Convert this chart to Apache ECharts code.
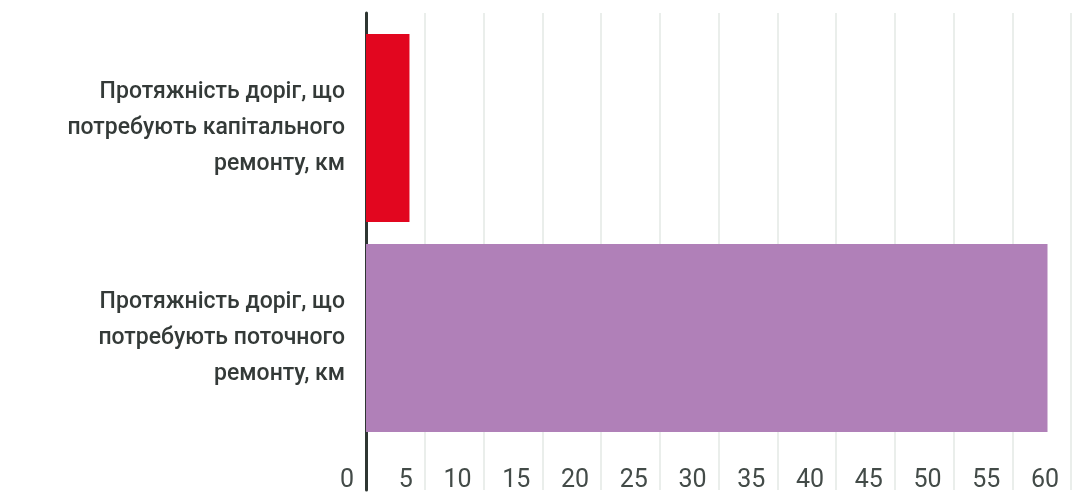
<!DOCTYPE html>
<html>
<head>
<meta charset="utf-8">
<script src="https://cdn.jsdelivr.net/npm/echarts@6/dist/echarts.min.js"></script>
<style>
html,body{margin:0;padding:0;background:#fff;}
#chart{width:1087px;height:493px;}
</style>
</head>
<body>
<div id="chart"></div>
<script>
const categories = [
  "Протяжність доріг, що\nпотребують капітального\nремонту, км",
  "Протяжність доріг, що\nпотребують поточного\nремонту, км"
];
const values = [3.7, 58];
const barColors = ["#e2061f", "#b080b8"];
const xMin = 0, xMax = 60, xStep = 5;

const chart = echarts.init(document.getElementById('chart'), null, {renderer: 'canvas'});
const option = {
  backgroundColor: '#ffffff',
  animation: false,
  grid: [
    {left: 366, right: 16, top: 13, bottom: 0},
    {left: 366, right: 16, top: 23, bottom: 50}
  ],
  xAxis: [
    {
      gridIndex: 0, type: 'value', min: xMin, max: xMax, interval: xStep,
      axisLine: {show: false}, axisTick: {show: false},
      splitLine: {show: true, lineStyle: {color: '#e3e8e4', width: 1.5}},
      axisLabel: {
        inside: true, margin: -3, align: 'right', padding: [0, 12, 0, 0],
        fontFamily: 'Roboto', fontSize: 25, color: '#434b48'
      }
    },
    {gridIndex: 1, type: 'value', min: xMin, max: xMax, interval: xStep, show: false}
  ],
  yAxis: [
    {
      gridIndex: 0, type: 'value', min: 0, max: 1,
      axisLine: {show: true, lineStyle: {color: '#2e3632', width: 3}},
      axisTick: {show: false}, axisLabel: {show: false}, splitLine: {show: false}
    },
    {
      gridIndex: 1, type: 'category', inverse: true, data: categories,
      axisLine: {show: false}, axisTick: {show: false},
      axisLabel: {
        margin: 21, fontFamily: 'Roboto', fontSize: 23, lineHeight: 36,
        color: '#343a38', fontWeight: 500
      }
    }
  ],
  series: [{
    type: 'bar', xAxisIndex: 1, yAxisIndex: 1,
    barCategoryGap: '10.5%',
    data: values.map((v, i) => ({value: v, itemStyle: {color: barColors[i]}}))
  }]
};
chart.setOption(option);
</script>
</body>
</html>
